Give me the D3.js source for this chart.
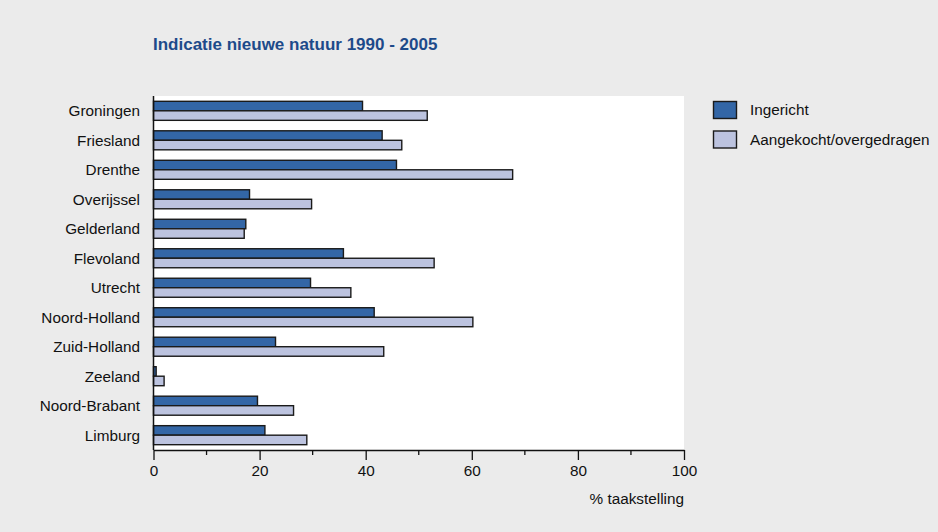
<!DOCTYPE html>
<html><head><meta charset="utf-8">
<script src="https://cdn.jsdelivr.net/npm/d3@7"></script>
<style>body{margin:0;background:#ebebeb;} svg{display:block;}</style>
</head><body>
<svg id="c" width="938" height="532"></svg>
<script>
const provinces = ["Groningen","Friesland","Drenthe","Overijssel","Gelderland","Flevoland","Utrecht","Noord-Holland","Zuid-Holland","Zeeland","Noord-Brabant","Limburg"];
const ingericht = [39.4,43.1,45.8,18.1,17.4,35.8,29.6,41.6,23.0,0.5,19.6,21.0];
const aangekocht = [51.6,46.8,67.7,29.8,17.1,52.9,37.2,60.2,43.4,2.0,26.4,28.9];
const seriesNames = ["Ingericht","Aangekocht/overgedragen"];
const seriesColors = ["#3366a6","#bcc3df"];
const xTicks = [0,20,40,60,80,100];
const minorTicks = [10,30,50,70,90];

const svg = d3.select("#c");
const font = "'Liberation Sans', Arial, sans-serif";
const fs = 15.3;
const L = 153.5, R = 684, T = 96, B = 450;

svg.append("rect").attr("width",938).attr("height",532).attr("fill","#ebebeb");
svg.append("rect").attr("x",L).attr("y",T).attr("width",R-L).attr("height",B-T).attr("fill","#fff");

const x = d3.scaleLinear().domain([0,100]).range([L,R]);
const y = d3.scaleBand().domain(provinces).range([T,B]).paddingInner(0.355).paddingOuter(0.18);
const sub = d3.scaleBand().domain([0,1]).range([0,y.bandwidth()]);

const data = provinces.map((p,i)=>({p, v:[ingericht[i], aangekocht[i]]}));
const g = svg.append("g");
data.forEach(d=>{
  d.v.forEach((v,k)=>{
    g.append("rect")
      .attr("x",x(0)).attr("y",y(d.p)+sub(k))
      .attr("width",x(v)-x(0)).attr("height",sub.bandwidth())
      .attr("fill",seriesColors[k]).attr("stroke","#1a1a1a").attr("stroke-width",1.4);
  });
});

// y labels
svg.append("g").selectAll("text").data(provinces).join("text")
  .attr("x",140).attr("y",d=>y(d)+y.bandwidth()/2).attr("dy","0.35em")
  .attr("text-anchor","end").attr("font-family",font).attr("font-size",fs).attr("fill","#111")
  .text(d=>d);

// left axis line
svg.append("line").attr("x1",L).attr("x2",L).attr("y1",T).attr("y2",B).attr("stroke","#111").attr("stroke-width",1.5);

// x axis
const ax = svg.append("g").attr("transform",`translate(0,${B})`)
  .call(d3.axisBottom(x).tickValues(xTicks).tickSize(10).tickPadding(5).tickSizeOuter(0));
ax.select(".domain").attr("stroke","#111").attr("stroke-width",1.3);
ax.selectAll(".tick line").attr("stroke","#111").attr("stroke-width",1.3);
ax.selectAll(".tick text").attr("font-family",font).attr("font-size",fs).attr("fill","#111");
svg.append("g").attr("transform",`translate(0,${B})`).selectAll("line").data(minorTicks).join("line")
  .attr("x1",d=>x(d)).attr("x2",d=>x(d)).attr("y1",0).attr("y2",5).attr("stroke","#111").attr("stroke-width",1.3);

svg.append("text").attr("x",R).attr("y",504).attr("text-anchor","end")
  .attr("font-family",font).attr("font-size",fs).attr("fill","#111").text("% taakstelling");

// title
svg.append("text").attr("x",153).attr("y",50).attr("font-family",font).attr("font-weight","bold")
  .attr("font-size",17).attr("fill","#1d4a8a").text("Indicatie nieuwe natuur 1990 - 2005");

// legend
const lg = svg.append("g");
seriesNames.forEach((n,k)=>{
  lg.append("rect").attr("x",713.5).attr("y",101.5+k*29.5).attr("width",23).attr("height",17)
    .attr("fill",seriesColors[k]).attr("stroke","#1a1a1a").attr("stroke-width",1.4);
  lg.append("text").attr("x",750).attr("y",110+k*29.5).attr("dy","0.35em")
    .attr("font-family",font).attr("font-size",fs).attr("fill","#111").text(n);
});
</script>
</body></html>
